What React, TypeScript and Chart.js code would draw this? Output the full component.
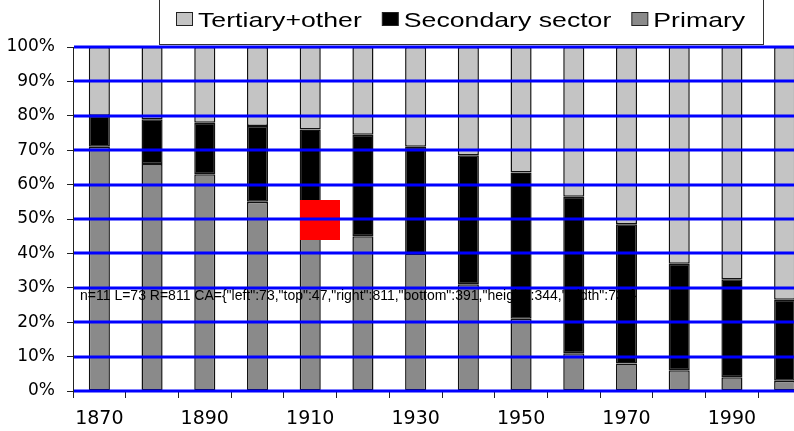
import React, { useEffect, useRef } from "react";
import { Chart, registerables } from "chart.js";

Chart.register(...registerables);

const years = ["1870", "1880", "1890", "1900", "1910", "1920", "1930", "1940", "1950", "1960", "1970", "1980", "1990", "2000"];
const shownYearLabels = ["1870", "1890", "1910", "1930", "1950", "1970", "1990"];
const primary = [71, 66, 63, 55, 50, 45, 40, 31, 21, 11, 8, 6, 4, 3];
const secondary = [9, 13, 15, 22, 26, 29.5, 31, 37.5, 42.5, 45.5, 40.5, 31, 28.5, 23.5];
const tertiary = [20, 21, 22, 23, 24, 25.5, 29, 31.5, 36.5, 43.5, 51.5, 63, 67.5, 73.5];
const legendLabels = ["Tertiary+other", "Secondary sector", "Primary"];
const legendColors = ["#c4c4c4", "#000000", "#8a8a8a"];

const hGrid = {
  id: "hGrid",
  afterDraw(chart: any) {
    const ctx = chart.ctx;
    const y = chart.scales.y;
    const x = chart.scales.x;
    ctx.save();
    ctx.fillStyle = "#ff0000";
    ctx.fillRect(300, 200, 40, 40);
    ctx.strokeStyle = "#0000ff";
    ctx.lineWidth = 3;
    y.ticks.forEach((t: any) => {
      const py = Math.round(y.getPixelForValue(t.value));
      ctx.beginPath();
      ctx.moveTo(x.left + 1, py);
      ctx.lineTo(x.right, py);
      ctx.stroke();
    });
    ctx.fillStyle = "#000";
    ctx.font = "14px sans-serif";
    ctx.fillText(
      "n=" + y.ticks.length + " L=" + Math.round(x.left) + " R=" + Math.round(x.right) + " CA=" + JSON.stringify(chart.chartArea),
      80,
      300
    );
    ctx.restore();
  },
};

const boxedLegend = {
  id: "boxedLegend",
  afterDraw(chart: any) {
    const ctx = chart.ctx;
    ctx.save();
    ctx.fillStyle = "#ffffff";
    ctx.fillRect(159.5, -2, 604, 46.5);
    ctx.strokeStyle = "#333333";
    ctx.lineWidth = 1;
    ctx.strokeRect(159.5, -2, 604, 46.5);
    const sx = 1.27;
    ctx.font = '21px "Liberation Sans", Arial, sans-serif';
    ctx.textBaseline = "alphabetic";
    let x = 176;
    legendLabels.forEach((label, i) => {
      ctx.fillStyle = legendColors[i];
      ctx.fillRect(x + 0.5, 12.5, 16, 13);
      ctx.strokeStyle = "#222222";
      ctx.strokeRect(x + 0.5, 12.5, 16, 13);
      const tx = x + 22;
      ctx.save();
      ctx.translate(tx, 26.5);
      ctx.scale(sx, 1);
      ctx.fillStyle = "#000000";
      ctx.fillText(label, 0, 0);
      ctx.restore();
      const w = ctx.measureText(label).width * sx;
      x = tx + w + 20;
    });
    ctx.restore();
  },
};

const barStyle = {
  borderColor: "#111111",
  borderWidth: 1.5,
  borderSkipped: false,
  barPercentage: 0.4,
  categoryPercentage: 1,
};

export default function App() {
  const ref = useRef<HTMLCanvasElement | null>(null);

  useEffect(() => {
    if (!ref.current) return;
    const chart = new Chart(ref.current, {
      type: "bar",
      data: {
        labels: years,
        datasets: [
          { label: "Primary", data: primary, backgroundColor: "#8a8a8a", ...barStyle },
          { label: "Secondary sector", data: secondary, backgroundColor: "#000000", ...barStyle },
          { label: "Tertiary+other", data: tertiary, backgroundColor: "#c4c4c4", ...barStyle },
        ],
      },
      options: {
        animation: false,
        responsive: false,
        layout: { padding: { top: 47, left: 0, right: 0, bottom: 0 } },
        plugins: { legend: { display: false }, tooltip: { enabled: false } },
        scales: {
          x: {
            stacked: true,
            offset: true,
            grid: { offset: true, drawOnChartArea: false, drawTicks: true, tickLength: 7, tickColor: "#222222", tickWidth: 1 },
            border: { color: "#222222", width: 1 },
            ticks: {
              autoSkip: false,
              maxRotation: 0,
              minRotation: 0,
              padding: 10,
              color: "#000000",
              font: { size: 19, family: '"DejaVu Sans"' },
              callback: (_v: any, i: number) => (shownYearLabels.includes(years[i]) ? years[i] : ""),
            },
            afterFit: (s: any) => {
              s.height = 40;
            },
          },
          y: {
            stacked: true,
            min: 0,
            max: 100,
            grid: { drawOnChartArea: false, drawTicks: true, tickLength: 6, tickColor: "#222222", tickWidth: 1 },
            border: { color: "#222222", width: 1 },
            ticks: {
              stepSize: 10,
              padding: 12,
              color: "#000000",
              font: { size: 17, family: '"DejaVu Sans"' },
              callback: (v: any) => v + "%",
            },
            afterFit: (s: any) => {
              s.width = 73;
            },
          },
        },
      },
      plugins: [hGrid, boxedLegend],
    });
    return () => chart.destroy();
  }, []);

  return (
    <div style={{ position: "fixed", left: 0, top: 0, width: 794, height: 431, overflow: "hidden", background: "#ffffff" }}>
      <canvas ref={ref} width={811} height={431} style={{ display: "block" }} />
    </div>
  );
}
